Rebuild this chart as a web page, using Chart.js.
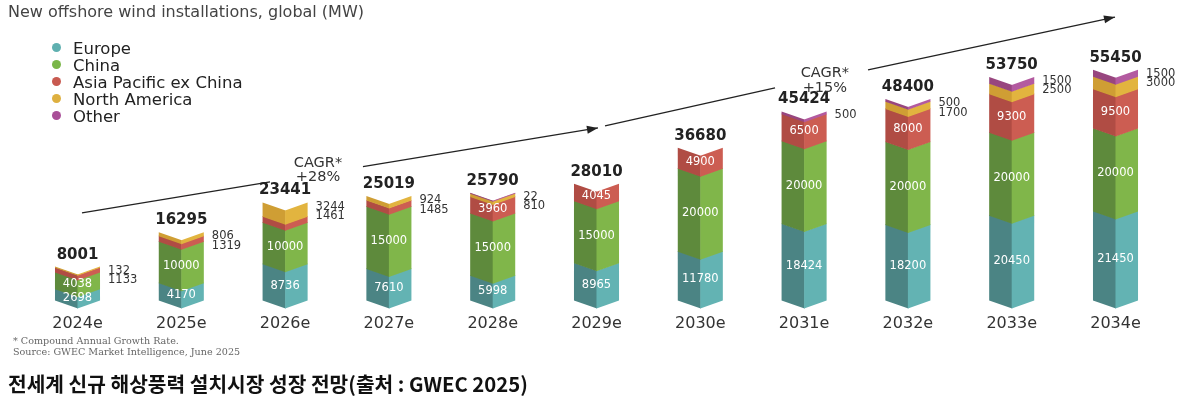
<!DOCTYPE html>
<html><head><meta charset="utf-8">
<script src="https://cdn.jsdelivr.net/npm/chart.js@4.4.0/dist/chart.umd.min.js"></script>
<style>
html,body{margin:0;padding:0;background:#fff;width:1189px;height:397px;overflow:hidden;}
#wrap{position:relative;width:1189px;height:397px;}
canvas{position:absolute;left:0;top:0;}
#title{position:absolute;left:8px;top:2px;font:16px 'DejaVu Sans';color:#444;white-space:nowrap;}
#legend{position:absolute;left:52px;top:40px;font:16.5px 'DejaVu Sans';color:#222;line-height:17px;}
#legend div{white-space:nowrap;}
#legend span{display:inline-block;width:9px;height:9px;border-radius:50%;margin-right:12px;vertical-align:2px;}
#note{position:absolute;left:13px;top:335px;font:9.6px 'DejaVu Serif';color:#666;line-height:11px;white-space:nowrap;}
#caption{position:absolute;left:8px;top:368px;font:bold 20.3px 'Noto Sans CJK KR';color:#111;white-space:nowrap;}
</style></head>
<body><div id="wrap"><canvas id="c" width="1189" height="397"></canvas>
<div id="title">New offshore wind installations, global (MW)</div>
<div id="legend"></div>
<div id="note">* Compound Annual Growth Rate.<br>Source: GWEC Market Intelligence, June 2025</div>
<div id="caption">전세계 신규 해상풍력 설치시장 성장 전망(출처 : GWEC 2025)</div>
</div>
<script>
const categories = ['2024e','2025e','2026e','2027e','2028e','2029e','2030e','2031e','2032e','2033e','2034e'];
const europe       = [2698, 4170, 8736, 7610, 5998, 8965, 11780, 18424, 18200, 20450, 21450];
const china        = [4038, 10000, 10000, 15000, 15000, 15000, 20000, 20000, 20000, 20000, 20000];
const apacExChina  = [1133, 1319, 1461, 1485, 3960, 4045, 4900, 6500, 8000, 9300, 9500];
const northAmerica = [132, 806, 3244, 924, 810, 0, 0, 0, 1700, 2500, 3000];
const other        = [0, 0, 0, 0, 22, 0, 0, 500, 500, 1500, 1500];
const totals       = [8001, 16295, 23441, 25019, 25790, 28010, 36680, 45424, 48400, 53750, 55450];
const seriesNames  = ['Europe','China','Asia Pacific ex China','North America','Other'];
const cagrLabels   = [['CAGR*','+28%'],['CAGR*','+15%']];

const seriesValues = [europe, china, apacExChina, northAmerica, other];
const lightColors = ['#63b3b3','#80b64a','#cc5d52','#e2b43f','#b35aa0'];
const darkColors  = ['#4b8484','#5e8a3c','#b04c44','#cf9e34','#98467f'];
const dotColors   = ['#5fb0b0','#7ab648','#c85a50','#deb040','#a94f98'];

const leg = document.getElementById('legend');
seriesNames.forEach((n,i)=>{
  const d=document.createElement('div');
  d.innerHTML='<span style="background:'+dotColors[i]+'"></span>'+n;
  leg.appendChild(d);
});

const D = 8; // chevron depth
const chevronBars = {
  id:'chevronBars',
  beforeDatasetsDraw(chart){
    const ctx = chart.ctx;
    chart.data.datasets.forEach((ds,di)=>{
      const meta = chart.getDatasetMeta(di);
      meta.data.forEach((el,i)=>{
        if(!ds.data[i]) return;
        const p = el.getProps(['x','y','base','width'], true);
        const l = p.x - p.width/2, r = p.x + p.width/2;
        const b = p.base + 0.7;
        ctx.save();
        ctx.fillStyle = darkColors[di];
        ctx.beginPath();
        ctx.moveTo(l, p.y - D); ctx.lineTo(p.x + 0.5, p.y); ctx.lineTo(p.x + 0.5, b); ctx.lineTo(l, b - D);
        ctx.closePath(); ctx.fill();
        ctx.fillStyle = lightColors[di];
        ctx.beginPath();
        ctx.moveTo(p.x, p.y); ctx.lineTo(r, p.y - D); ctx.lineTo(r, b - D); ctx.lineTo(p.x, b);
        ctx.closePath(); ctx.fill();
        ctx.restore();
      });
    });
    return false;
  },
  afterDraw(chart){
    const ctx = chart.ctx;
    const xs = chart.scales.x, ys = chart.scales.y;
    const lastMeta = chart.getDatasetMeta(seriesValues.length-1);
    ctx.save();
    ctx.textBaseline = 'middle';
    categories.forEach((c,i)=>{
      const top = lastMeta.data[i].getProps(['x','y','width'], true);
      const topEdge = top.y - D;
      ctx.fillStyle = '#222';
      ctx.font = 'bold 15px "DejaVu Sans"';
      ctx.textAlign = 'center';
      ctx.fillText(String(totals[i]), top.x, topEdge - 12);
      ctx.font = '11.5px "DejaVu Sans"';
      ctx.fillStyle = '#fff';
      [0,1,2].forEach(di=>{
        const v = seriesValues[di][i];
        if(di===2 && v < 3000) return;
        const el = chart.getDatasetMeta(di).data[i].getProps(['y','base'], true);
        ctx.fillText(String(v), top.x, (el.y + el.base)/2 - D/2);
      });
      const out = [];
      if(other[i]>0) out.push(other[i]);
      if(northAmerica[i]>0) out.push(northAmerica[i]);
      if(apacExChina[i]<3000) out.push(apacExChina[i]);
      ctx.fillStyle = '#333';
      ctx.textAlign = 'left';
      out.forEach((v,k)=>{
        ctx.fillText(String(v), top.x + top.width/2 + 8, topEdge + 4 + k*9.5);
      });
    });
    const P = (a)=>[xs.getPixelForValue(a[0]), ys.getPixelForValue(a[1])];
    const segs = [
      [[0.043,22900],[1.855,30360]],
      [[2.75,34070],[5.014,43370]],
      [[5.082,43850],[6.72,53010]],
      [[7.616,57350],[9.995,70120]]
    ];
    ctx.strokeStyle = '#222'; ctx.lineWidth = 1.3;
    segs.forEach(s=>{
      const a=P(s[0]), b=P(s[1]);
      ctx.beginPath(); ctx.moveTo(a[0],a[1]); ctx.lineTo(b[0],b[1]); ctx.stroke();
    });
    [1,3].forEach(k=>{
      const a=P(segs[k][0]), b=P(segs[k][1]);
      const ang = Math.atan2(b[1]-a[1], b[0]-a[0]);
      ctx.fillStyle='#222';
      ctx.beginPath();
      ctx.moveTo(b[0],b[1]);
      ctx.lineTo(b[0]-11*Math.cos(ang)+4*Math.sin(ang), b[1]-11*Math.sin(ang)-4*Math.cos(ang));
      ctx.lineTo(b[0]-11*Math.cos(ang)-4*Math.sin(ang), b[1]-11*Math.sin(ang)+4*Math.cos(ang));
      ctx.closePath(); ctx.fill();
    });
    const cagrPos = [[[2.317,34940],[2.317,31570]],[[7.2,56630],[7.2,53010]]];
    ctx.font = '14.5px "DejaVu Sans"'; ctx.fillStyle='#333'; ctx.textAlign='center';
    cagrLabels.forEach((lines,j)=>{
      lines.forEach((t,k)=>{ const p=P(cagrPos[j][k]); ctx.fillText(t,p[0],p[1]); });
    });
    ctx.restore();
  }
};

new Chart(document.getElementById('c'), {
  type:'bar',
  data:{
    labels: categories,
    datasets: seriesNames.map((n,i)=>({label:n, data:seriesValues[i], backgroundColor:lightColors[i], stack:'s', barPercentage:0.434, categoryPercentage:1}))
  },
  options:{
    responsive:false, animation:false,
    layout:{padding:{left:25.6, right:21.6, top:59, bottom:58}},
    plugins:{legend:{display:false}, tooltip:{enabled:false}},
    scales:{
      x:{stacked:true, grid:{display:false, drawTicks:false}, border:{display:false},
         ticks:{font:{family:'DejaVu Sans', size:16}, color:'#333', padding:6}},
      y:{stacked:true, display:false, min:0, max:60000}
    }
  },
  plugins:[chevronBars]
});
</script>
</body></html>
